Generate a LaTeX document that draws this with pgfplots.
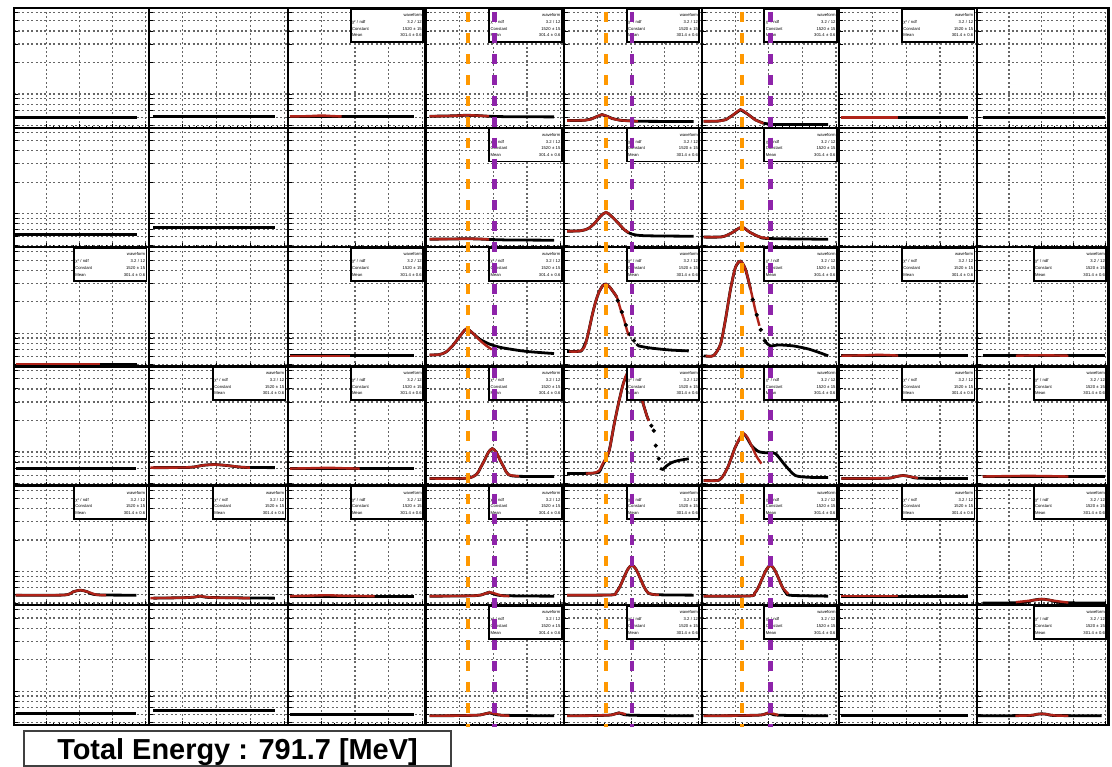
\documentclass[border=0pt]{standalone}
\usepackage{fontspec}
\setmainfont{Liberation Sans}
\usepackage{pgfplots}
\pgfplotsset{compat=1.18}
\definecolor{fitred}{RGB}{175,35,25}
\definecolor{vorange}{RGB}{255,152,0}
\definecolor{vpurple}{RGB}{142,36,170}
\pgfplotsset{
 panel/.style={scale only axis, height=60pt, anchor=north west,
  xmin=0, xmax=1024, ymin=477, ymax=6640,
  xtick={250,500,750,1000}, ytick={500,600,700,800,900,1000,2000,3000,4000,5000,6000},
  xticklabels={}, yticklabels={},
  minor x tick num=4,
  tick align=inside, xtick pos=left, ytick pos=left,
  major tick length=2pt, minor tick length=1pt,
  tick style={black, line width=0.45pt},
  grid=major, major grid style={black!60, line width=0.6pt, dash pattern=on 1pt off 1.2pt},
  axis line style={black, line width=1.1pt},
 },
 wf/.style={black, line width=1.4pt, no marks},
 fit/.style={fitred, line width=1.2pt, no marks, smooth, tension=0.5},
 dots/.style={black, only marks, mark=*, mark size=0.85pt},
}
\newcommand\statbox{\node[draw=black, line width=0.9pt, fill=white, anchor=north east, inner sep=0.7pt, text width=35pt, minimum height=16.5pt, align=left, font=\fontsize{2.1}{3.4}\selectfont] at (rel axis cs:0.99,1) {\hfill waveform\\ χ² / ndf \hfill 3.2 / 12\\ Constant \hfill 1520 ± 15\\ Mean \hfill 301.4 ± 0.6};}
\begin{document}
\begin{tikzpicture}
\path (0pt,0pt) rectangle (556pt,-384.5pt);
% ---------------- Row 1
\begin{axis}[ymode=log, panel, at={(6.5pt,-4pt)}, width=67.75pt]
\addplot[wf] coordinates {(10,595) (935,595)};
\end{axis}
\begin{axis}[ymode=log, panel, at={(74.25pt,-4pt)}, width=69.75pt]
\addplot[wf] coordinates {(33,608) (929,608)};
\end{axis}
\begin{axis}[ymode=log, panel, at={(144pt,-4pt)}, width=69pt]
\addplot[wf] coordinates {(15,608) (940,608)};
\addplot[fit] coordinates {(15,610) (150,614) (250,622) (330,615) (400,610)};
\statbox
\end{axis}
\begin{axis}[ymode=log, panel, at={(213pt,-4pt)}, width=69.5pt]
\addplot[wf] coordinates {(30,612) (200,618) (300,626) (380,622) (470,612) (600,606) (950,604)};
\addplot[fit] coordinates {(30,612) (200,618) (300,626) (380,622) (470,612)};
\statbox
\end{axis}
\begin{axis}[ymode=log, panel, at={(282.5pt,-4pt)}, width=69pt]
\addplot[wf] coordinates {(22,557) (150,560) (200,575) (240,605) (282,635) (320,612) (360,582) (420,560) (550,548) (965,545)};
\addplot[fit] coordinates {(22,557) (150,560) (200,575) (240,605) (282,635) (320,612) (360,582) (420,560) (550,548)};
\statbox
\end{axis}
\begin{axis}[ymode=log, panel, at={(351.5pt,-4pt)}, width=69pt]
\addplot[wf] coordinates {(15,548) (120,550) (180,568) (230,625) (289,708) (340,645) (400,565) (460,525) (520,512) (942,510)};
\addplot[fit] coordinates {(15,548) (120,550) (180,568) (230,625) (289,708) (340,645) (400,565) (460,525)};
\statbox
\end{axis}
\begin{axis}[ymode=log, panel, at={(420.5pt,-4pt)}, width=69pt]
\addplot[wf] coordinates {(15,595) (957,595)};
\addplot[fit] coordinates {(15,597) (438,597)};
\statbox
\end{axis}
\begin{axis}[ymode=log, panel, at={(489.5pt,-4pt)}, width=66pt]
\addplot[wf] coordinates {(45,595) (1000,595)};
\end{axis}
% ---------------- Row 2
\begin{axis}[ymode=log, panel, at={(6.5pt,-64pt)}, width=67.75pt]
\addplot[wf] coordinates {(10,635) (935,635)};
\end{axis}
\begin{axis}[ymode=log, panel, at={(74.25pt,-64pt)}, width=69.75pt]
\addplot[wf] coordinates {(33,741) (929,741)};
\end{axis}
\begin{axis}[ymode=log, panel, at={(144pt,-64pt)}, width=69pt]
\addplot[draw=none] coordinates {(0,1000)};
\end{axis}
\begin{axis}[ymode=log, panel, at={(213pt,-64pt)}, width=69.5pt]
\addplot[wf] coordinates {(30,570) (200,572) (300,576) (400,572) (470,566) (600,560) (950,557)};
\addplot[fit] coordinates {(30,570) (200,572) (300,576) (400,572) (470,566)};
\statbox
\end{axis}
\begin{axis}[ymode=log, panel, at={(282.5pt,-64pt)}, width=69pt]
\addplot[wf, smooth, tension=0.5] coordinates {(22,680) (120,685) (180,720) (230,815) (270,940) (312,1029) (350,950) (400,820) (450,700) (500,640) (600,615) (965,608)};
\addplot[fit] coordinates {(22,680) (120,685) (180,720) (230,815) (270,940) (312,1029) (350,950) (400,820) (450,700) (482,660)};
\statbox
\end{axis}
\begin{axis}[ymode=log, panel, at={(351.5pt,-64pt)}, width=69pt]
\addplot[wf, smooth, tension=0.5] coordinates {(15,597) (150,600) (220,650) (297,741) (360,662) (430,600) (500,578) (942,569)};
\addplot[fit] coordinates {(15,597) (150,600) (220,650) (297,741) (360,662) (430,600) (500,578)};
\statbox
\end{axis}
\begin{axis}[ymode=log, panel, at={(420.5pt,-64pt)}, width=69pt]
\addplot[draw=none] coordinates {(0,1000)};
\end{axis}
\begin{axis}[ymode=log, panel, at={(489.5pt,-64pt)}, width=66pt]
\addplot[draw=none] coordinates {(0,1000)};
\end{axis}
% ---------------- Row 3
\begin{axis}[ymode=log, panel, at={(6.5pt,-124pt)}, width=67.75pt]
\addplot[wf] coordinates {(15,505) (937,505)};
\addplot[fit] coordinates {(15,505) (657,505)};
\statbox
\end{axis}
\begin{axis}[ymode=log, panel, at={(74.25pt,-124pt)}, width=69.75pt]
\addplot[draw=none] coordinates {(0,1000)};
\end{axis}
\begin{axis}[ymode=log, panel, at={(144pt,-124pt)}, width=69pt]
\addplot[wf] coordinates {(15,608) (942,608)};
\addplot[fit] coordinates {(15,610) (460,610)};
\statbox
\end{axis}
\begin{axis}[ymode=log, panel, at={(213pt,-124pt)}, width=69.5pt]
\addplot[wf, smooth, tension=0.5] coordinates {(30,621) (100,625) (150,660) (200,760) (250,920) (302,1098) (350,1000) (400,880) (471,790) (540,740) (619,708) (750,670) (950,640)};
\addplot[fit] coordinates {(30,621) (100,625) (150,660) (200,760) (250,920) (302,1098) (350,1000) (400,860) (450,760) (490,700)};
\statbox
\end{axis}
\begin{axis}[ymode=log, panel, at={(282.5pt,-124pt)}, width=69pt]
\addplot[wf, smooth, tension=0.4] coordinates {(22,670) (110,672) (134,690) (170,880) (208,1460) (235,2000) (260,2474) (290,2880) (312,2950) (340,2760) (370,2450) (393,2218)};
\addplot[wf, smooth, tension=0.4] coordinates {(540,790) (557,757) (620,730) (705,708) (800,690) (928,678)};
\addplot[dots] coordinates {(400,2050) (430,1600) (460,1200) (490,980) (520,850)};
\addplot[fit] coordinates {(37,670) (110,672) (150,730) (180,1000) (208,1460) (235,2000) (260,2474) (290,2880) (312,2950) (340,2760) (370,2450) (393,2218) (420,1700) (445,1368) (470,1050) (482,950)};
\statbox
\end{axis}
\begin{axis}[ymode=log, panel, at={(351.5pt,-124pt)}, width=69pt]
\addplot[wf, smooth, tension=0.4] coordinates {(15,608) (89,612) (141,790) (178,1368) (215,2642) (252,4281) (289,4887) (326,4096) (364,2642)};
\addplot[wf, smooth, tension=0.4] coordinates {(475,827) (512,757) (571,774) (682,757) (794,708) (883,649) (942,608)};
\addplot[dots] coordinates {(380,2100) (410,1500) (440,1080) (470,850)};
\addplot[fit] coordinates {(30,608) (89,612) (141,790) (178,1368) (215,2642) (252,4281) (289,4887) (326,4096) (364,2642) (401,1637) (430,1180)};
\statbox
\end{axis}
\begin{axis}[ymode=log, panel, at={(420.5pt,-124pt)}, width=69pt]
\addplot[wf] coordinates {(15,608) (957,608)};
\addplot[fit] coordinates {(15,610) (200,616) (300,622) (438,612)};
\statbox
\end{axis}
\begin{axis}[ymode=log, panel, at={(489.5pt,-124pt)}, width=66pt]
\addplot[wf] coordinates {(45,608) (1000,608)};
\addplot[fit] coordinates {(304,610) (500,616) (712,610)};
\statbox
\end{axis}
% ---------------- Row 4
\begin{axis}[ymode=log, panel, at={(6.5pt,-183.5pt)}, width=67.75pt]
\addplot[wf] coordinates {(15,693) (930,693)};
\end{axis}
\begin{axis}[ymode=log, panel, at={(74.25pt,-183.5pt)}, width=69.75pt]
\addplot[wf, smooth, tension=0.5] coordinates {(33,708) (300,712) (400,745) (488,757) (580,740) (700,712) (929,708)};
\addplot[fit] coordinates {(11,708) (300,712) (400,745) (488,757) (580,740) (700,712) (745,708)};
\statbox
\end{axis}
\begin{axis}[ymode=log, panel, at={(144pt,-183.5pt)}, width=69pt]
\addplot[wf] coordinates {(15,693) (942,693)};
\addplot[fit] coordinates {(15,693) (150,698) (300,705) (420,698) (534,693)};
\statbox
\end{axis}
\begin{axis}[ymode=log, panel, at={(213pt,-183.5pt)}, width=69.5pt]
\addplot[wf, smooth, tension=0.5] coordinates {(30,557) (300,560) (376,608) (405,700) (435,827) (465,990) (494,1076) (523,990) (553,827) (583,700) (612,608) (680,585) (950,582)};
\addplot[fit] coordinates {(30,557) (300,560) (376,608) (405,700) (435,827) (465,990) (494,1076) (523,990) (553,827) (583,700) (612,608) (692,585)};
\statbox
\end{axis}
\begin{axis}[ymode=log, panel, at={(282.5pt,-183.5pt)}, width=69pt]
\addplot[wf, smooth, tension=0.4] coordinates {(22,621) (200,625) (260,640) (282,725) (334,1008) (371,1781) (408,3020) (445,4677) (497,6213) (542,5000) (579,3200) (616,2218) (631,1987)};
\addplot[dots] coordinates {(650,1780) (668,1596) (683,1148) (705,863)};
\addplot[wf, smooth, tension=0.5] coordinates {(715,700) (735,680) (760,730) (800,790) (850,827) (928,860)};
\addplot[fit] coordinates {(163,621) (220,630) (260,660) (290,780) (334,1008) (371,1781) (408,3020) (445,4677) (470,5700) (497,6213) (520,5900) (542,5000) (579,3200) (616,2218) (631,1987)};
\statbox
\end{axis}
\begin{axis}[ymode=log, panel, at={(351.5pt,-183.5pt)}, width=69pt]
\addplot[wf, smooth, tension=0.4] coordinates {(15,533) (126,535) (163,600) (200,741) (252,1123) (312,1494) (371,1148) (423,1008) (480,980) (549,963) (623,741) (697,595) (800,572) (942,569)};
\addplot[fit] coordinates {(15,533) (126,535) (163,600) (200,741) (252,1123) (290,1400) (312,1494) (340,1380) (371,1148) (410,900) (445,774)};
\statbox
\end{axis}
\begin{axis}[ymode=log, panel, at={(420.5pt,-183.5pt)}, width=69pt]
\addplot[wf, smooth, tension=0.5] coordinates {(15,557) (350,560) (420,580) (475,595) (530,580) (600,560) (957,557)};
\addplot[fit] coordinates {(15,557) (350,560) (420,580) (475,595) (530,580) (586,562)};
\statbox
\end{axis}
\begin{axis}[ymode=log, panel, at={(489.5pt,-183.5pt)}, width=66pt]
\addplot[wf] coordinates {(45,582) (1000,582)};
\addplot[fit] coordinates {(45,582) (400,590) (712,582)};
\statbox
\end{axis}
% ---------------- Row 5
\begin{axis}[ymode=log, panel, at={(6.5pt,-243.5pt)}, width=67.75pt]
\addplot[wf, smooth, tension=0.5] coordinates {(15,595) (380,597) (450,640) (506,664) (560,640) (630,600) (930,595)};
\addplot[fit] coordinates {(15,595) (380,597) (450,640) (506,664) (560,640) (630,600) (700,596)};
\statbox
\end{axis}
\begin{axis}[ymode=log, panel, at={(74.25pt,-243.5pt)}, width=69.75pt]
\addplot[wf, smooth, tension=0.5] coordinates {(33,557) (300,565) (379,582) (460,565) (929,557)};
\addplot[fit] coordinates {(11,557) (300,565) (379,582) (460,565) (745,557)};
\statbox
\end{axis}
\begin{axis}[ymode=log, panel, at={(144pt,-243.5pt)}, width=69pt]
\addplot[wf] coordinates {(15,582) (942,582)};
\addplot[fit] coordinates {(15,582) (200,590) (300,594) (400,588) (645,582)};
\statbox
\end{axis}
\begin{axis}[ymode=log, panel, at={(213pt,-243.5pt)}, width=69.5pt]
\addplot[wf, smooth, tension=0.5] coordinates {(30,582) (380,590) (471,635) (560,590) (950,582)};
\addplot[fit] coordinates {(30,582) (380,590) (471,635) (560,590) (620,583)};
\statbox
\end{axis}
\begin{axis}[ymode=log, panel, at={(282.5pt,-243.5pt)}, width=69pt]
\addplot[wf, smooth, tension=0.5] coordinates {(22,595) (350,598) (387,630) (416,720) (446,880) (476,1060) (505,1148) (534,1060) (564,880) (594,720) (623,630) (660,605) (750,598) (965,595)};
\addplot[fit] coordinates {(22,595) (350,598) (387,630) (416,720) (446,880) (476,1060) (505,1148) (534,1060) (564,880) (594,720) (623,630) (660,605) (705,600)};
\statbox
\end{axis}
\begin{axis}[ymode=log, panel, at={(351.5pt,-243.5pt)}, width=69pt]
\addplot[wf, smooth, tension=0.5] coordinates {(15,582) (357,585) (394,620) (423,710) (453,870) (483,1050) (512,1148) (541,1050) (571,870) (601,710) (630,620) (670,592) (942,582)};
\addplot[fit] coordinates {(15,582) (357,585) (394,620) (423,710) (453,870) (483,1050) (512,1148) (541,1050) (571,870) (601,710) (645,610)};
\statbox
\end{axis}
\begin{axis}[ymode=log, panel, at={(420.5pt,-243.5pt)}, width=69pt]
\addplot[wf] coordinates {(15,582) (957,582)};
\addplot[fit] coordinates {(15,584) (438,584)};
\statbox
\end{axis}
\begin{axis}[ymode=log, panel, at={(489.5pt,-243.5pt)}, width=66pt]
\addplot[wf, smooth, tension=0.5] coordinates {(45,499) (350,505) (430,530) (505,545) (580,530) (660,505) (1000,499)};
\addplot[fit] coordinates {(304,510) (430,530) (505,545) (580,530) (712,505)};
\statbox
\end{axis}
% ---------------- Row 6
\begin{axis}[ymode=log, panel, at={(6.5pt,-303.5pt)}, width=67.75pt]
\addplot[wf] coordinates {(15,608) (930,608)};
\end{axis}
\begin{axis}[ymode=log, panel, at={(74.25pt,-303.5pt)}, width=69.75pt]
\addplot[wf] coordinates {(33,649) (929,649)};
\end{axis}
\begin{axis}[ymode=log, panel, at={(144pt,-303.5pt)}, width=69pt]
\addplot[wf] coordinates {(15,595) (942,595)};
\end{axis}
\begin{axis}[ymode=log, panel, at={(213pt,-303.5pt)}, width=69.5pt]
\addplot[wf, smooth, tension=0.5] coordinates {(30,582) (380,590) (471,621) (560,590) (950,582)};
\addplot[fit] coordinates {(30,582) (380,590) (471,621) (560,590) (620,583)};
\statbox
\end{axis}
\begin{axis}[ymode=log, panel, at={(282.5pt,-303.5pt)}, width=69pt]
\addplot[wf, smooth, tension=0.5] coordinates {(22,582) (330,590) (408,621) (490,590) (965,582)};
\addplot[fit] coordinates {(22,582) (330,590) (408,621) (460,600)};
\statbox
\end{axis}
\begin{axis}[ymode=log, panel, at={(351.5pt,-303.5pt)}, width=69pt]
\addplot[wf, smooth, tension=0.5] coordinates {(15,582) (420,590) (497,621) (570,590) (942,582)};
\addplot[fit] coordinates {(15,582) (420,590) (497,621) (571,590)};
\statbox
\end{axis}
\begin{axis}[ymode=log, panel, at={(420.5pt,-303.5pt)}, width=69pt]
\addplot[wf] coordinates {(15,582) (957,582)};
\end{axis}
\begin{axis}[ymode=log, panel, at={(489.5pt,-303.5pt)}, width=66pt]
\addplot[wf, smooth, tension=0.5] coordinates {(7,582) (400,586) (460,600) (505,608) (550,600) (610,586) (970,582)};
\addplot[fit] coordinates {(300,583) (400,586) (460,600) (505,608) (550,600) (610,586) (712,582)};
\statbox
\end{axis}
% ---------------- overlay: vertical dashed markers
\begin{axis}[at={(0pt,0pt)}, anchor=north west, scale only axis, width=556pt, height=384.5pt,
  xmin=0, xmax=1112, ymin=0, ymax=769, y dir=reverse, hide axis, clip=false]
\addplot[vorange, line width=2.3pt, dash pattern=on 5pt off 5.5pt] coordinates {(468.5,12) (468.5,729)};
\addplot[vorange, line width=2.3pt, dash pattern=on 5pt off 5.5pt] coordinates {(607,12) (607,729)};
\addplot[vorange, line width=2.3pt, dash pattern=on 5pt off 5.5pt] coordinates {(743.5,12) (743.5,729)};
\addplot[vpurple, line width=2.3pt, dash pattern=on 5pt off 5.5pt] coordinates {(495,12) (495,729)};
\addplot[vpurple, line width=2.3pt, dash pattern=on 5pt off 5.5pt] coordinates {(633,12) (633,729)};
\addplot[vpurple, line width=2.3pt, dash pattern=on 5pt off 5.5pt] coordinates {(772,12) (772,729)};
\end{axis}
% ---------------- total energy box
\draw[black!75, line width=1pt] (11.5pt,-366.5pt) rectangle (226pt,-384pt);
\node[anchor=base, inner sep=0pt, font=\fontsize{14.5}{16}\selectfont\bfseries] at (118.75pt,-381pt) {Total Energy : 791.7 [MeV]};
\end{tikzpicture}
\end{document}
